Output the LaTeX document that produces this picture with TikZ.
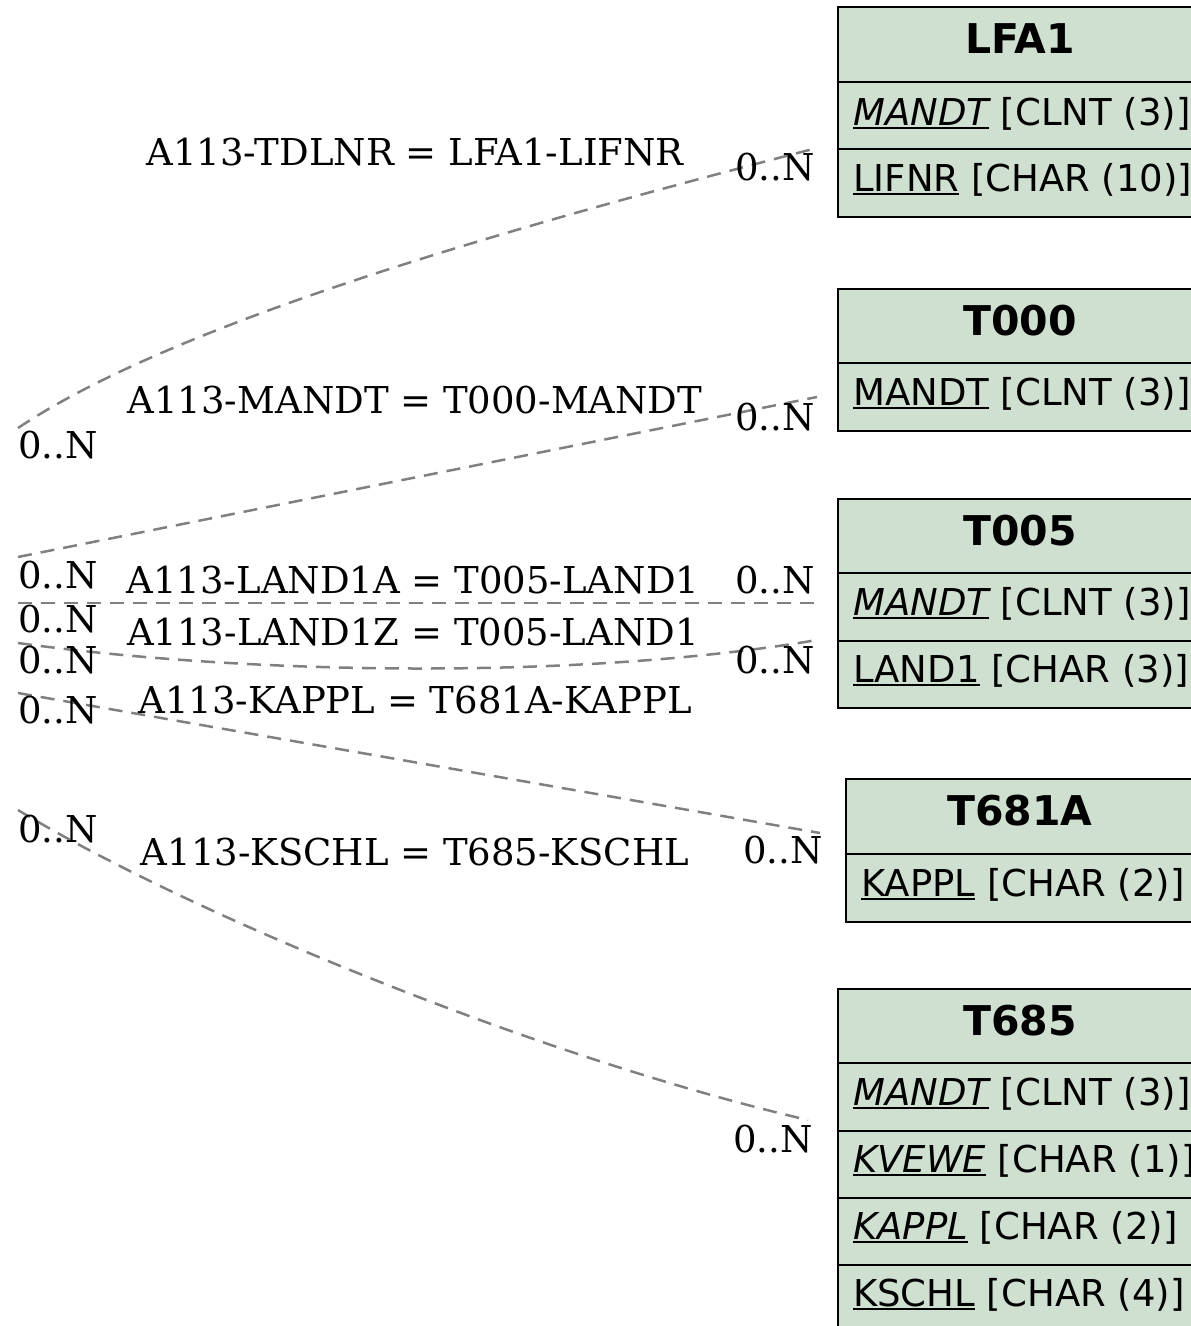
\documentclass[tikz,border=0pt]{standalone}
\usepackage{fontspec}
\setmainfont{DejaVu Serif}
\newfontfamily\tabfont{DejaVu Sans}
\definecolor{tabfill}{HTML}{D0E0D0}
\newcommand\keyfield[1]{\setbox0\hbox{#1}\rlap{\rule[-3.5pt]{\wd0}{2pt}}\box0\relax}
\tikzset{
  tab/.style={draw=black, line width=2.5pt, fill=tabfill},
  head/.style={anchor=base, inner sep=0pt, font=\tabfont\bfseries\fontsize{41}{48}\selectfont},
  field/.style={anchor=base west, inner sep=0pt, font=\tabfont\fontsize{37}{44}\selectfont},
  rel/.style={draw=gray, line width=2.5pt, dash pattern=on 14pt off 9pt},
  card/.style={anchor=base west, inner sep=0pt, font=\fontsize{37}{44}\selectfont},
  lbl/.style={anchor=base, inner sep=0pt, font=\fontsize{37}{44}\selectfont},
}
\begin{document}
\begin{tikzpicture}[x=1pt, y=-1pt]
    \useasboundingbox (0,0) rectangle (1191,1326);
    \clip (0,0) rectangle (1191,1326);
    % tables
    \begin{scope}[shift={(838,7)}]
    \draw[tab] (0,0) rectangle (364,75);
    \draw[tab] (0,75) rectangle (364,142);
    \draw[tab] (0,142) rectangle (364,210);
    \node[head]  (lfa1)       at (182,46)  {LFA1};
    \node[field] (lfa1-mandt) at (15,118)  {\keyfield{\itshape MANDT} [CLNT (3)]};
    \node[field] (lfa1-lifnr) at (15,184)  {\keyfield{LIFNR} [CHAR (10)]};
    \end{scope}
    \begin{scope}[shift={(838,289)}]
    \draw[tab] (0,0) rectangle (364,74);
    \draw[tab] (0,74) rectangle (364,142);
    \node[head]  (t000)       at (182,46)  {T000};
    \node[field] (t000-mandt) at (15,116)  {\keyfield{MANDT} [CLNT (3)]};
    \end{scope}
    \begin{scope}[shift={(838,499)}]
    \draw[tab] (0,0) rectangle (364,74);
    \draw[tab] (0,74) rectangle (364,142);
    \draw[tab] (0,142) rectangle (364,209);
    \node[head]  (t005)       at (182,46)  {T005};
    \node[field] (t005-mandt) at (15,116)  {\keyfield{\itshape MANDT} [CLNT (3)]};
    \node[field] (t005-land1) at (15,183)  {\keyfield{LAND1} [CHAR (3)]};
    \end{scope}
    \begin{scope}[shift={(846,779)}]
    \draw[tab] (0,0) rectangle (348,75);
    \draw[tab] (0,75) rectangle (348,143);
    \node[head]  (t681a)       at (174,46) {T681A};
    \node[field] (t681a-kappl) at (15,117) {\keyfield{KAPPL} [CHAR (2)]};
    \end{scope}
    \begin{scope}[shift={(838,989)}]
    \draw[tab] (0,0) rectangle (364,74);
    \draw[tab] (0,74) rectangle (364,142);
    \draw[tab] (0,142) rectangle (364,209);
    \draw[tab] (0,209) rectangle (364,276);
    \draw[tab] (0,276) rectangle (364,343);
    \node[head]  (t685)       at (182,46)  {T685};
    \node[field] (t685-mandt) at (15,116)  {\keyfield{\itshape MANDT} [CLNT (3)]};
    \node[field] (t685-kvewe) at (15,183)  {\keyfield{\itshape KVEWE} [CHAR (1)]};
    \node[field] (t685-kappl) at (15,250)  {\keyfield{\itshape KAPPL} [CHAR (2)]};
    \node[field] (t685-kschl) at (15,317)  {\keyfield{KSCHL} [CHAR (4)]};
    \end{scope}
    % connector ends
    \coordinate (a113-tdlnr)  at (18,428);
    \coordinate (a113-mandt)  at (18,557);
    \coordinate (a113-land1a) at (18,603);
    \coordinate (a113-land1z) at (18,643);
    \coordinate (a113-kappl)  at (18,693);
    \coordinate (a113-kschl)  at (18,810);
    \coordinate (to-lfa1)     at (813,149);
    \coordinate (to-t000)     at (817,397);
    \coordinate (to-t005a)    at (815,603);
    \coordinate (to-t005b)    at (817,640);
    \coordinate (to-t681a)    at (820,833);
    \coordinate (to-t685)     at (808,1120);
    % relations
    \draw[rel] (a113-tdlnr) .. controls (180,320) and (520,225) .. (to-lfa1);
    \draw[rel] (a113-mandt) -- (to-t000);
    \draw[rel] (a113-land1a) -- (to-t005a);
    \draw[rel] (a113-land1z) .. controls (250,675) and (580,680) .. (to-t005b);
    \draw[rel] (a113-kappl) -- (to-t681a);
    \draw[rel] (a113-kschl) .. controls (200,920) and (550,1060) .. (to-t685);
    % labels
    \node[lbl] (l-tdlnr)  at (415,165) {A113-TDLNR = LFA1-LIFNR};
    \node[lbl] (l-mandt)  at (415,413) {A113-MANDT = T000-MANDT};
    \node[lbl] (l-land1a) at (413,593) {A113-LAND1A = T005-LAND1};
    \node[lbl] (l-land1z) at (413,645) {A113-LAND1Z = T005-LAND1};
    \node[lbl] (l-kappl)  at (415,713) {A113-KAPPL = T681A-KAPPL};
    \node[lbl] (l-kschl)  at (415,865) {A113-KSCHL = T685-KSCHL};
    % cardinalities
    \node[card] (c-tdlnr)  at (18,458)  {0..N};
    \node[card] (c-mandt)  at (18,588)  {0..N};
    \node[card] (c-land1a) at (18,632)  {0..N};
    \node[card] (c-land1z) at (18,673)  {0..N};
    \node[card] (c-kappl)  at (18,723)  {0..N};
    \node[card] (c-kschl)  at (18,842)  {0..N};
    \node[card] (c-lfa1)   at (735,180) {0..N};
    \node[card] (c-t000)   at (735,430) {0..N};
    \node[card] (c-t005a)  at (735,593) {0..N};
    \node[card] (c-t005b)  at (735,673) {0..N};
    \node[card] (c-t681a)  at (743,863) {0..N};
    \node[card] (c-t685)   at (733,1152) {0..N};
\end{tikzpicture}
\end{document}
